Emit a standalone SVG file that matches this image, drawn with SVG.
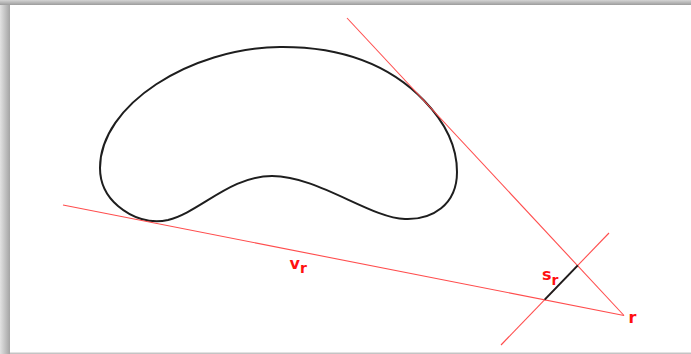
<svg xmlns="http://www.w3.org/2000/svg" width="691" height="354" viewBox="0 0 691 354">
  <defs>
    <linearGradient id="shL" x1="0" y1="0" x2="1" y2="0">
      <stop offset="0" stop-color="#e2e2e2"/>
      <stop offset="1" stop-color="#a4a4a4"/>
    </linearGradient>
    <linearGradient id="shT" x1="0" y1="0" x2="0" y2="1">
      <stop offset="0" stop-color="#d4d4d4"/>
      <stop offset="1" stop-color="#9c9c9c"/>
    </linearGradient>
  </defs>
  <style>
    .ray { stroke: #ff4d4d; stroke-width: 1.1; fill: none; }
    .seg { stroke: #1e1e1e; stroke-width: 2; fill: none; }
    .lbl { font-family: "DejaVu Sans", sans-serif; fill: #ff1010; font-size: 16px; font-weight: bold; }
    .sub { font-size: 14px; }
  </style>
  <g id="frame">
    <rect x="0" y="0" width="691" height="354" fill="#c4c4c4"/>
    <rect x="0" y="0" width="10" height="354" fill="url(#shL)"/>
    <rect x="0" y="0" width="691" height="5" fill="url(#shT)"/>
    <rect x="10" y="5" width="681" height="347.5" fill="#ffffff"/>
  </g>
  <g id="shape">
    <path class="seg" d="M 100 168 C 100 105, 190 48, 280 47 C 340 46.5, 388 63, 424 100.5 C 440 117, 457 140, 457 172 C 457 205, 432 220, 405 219 C 370 218, 318 176, 272 176 C 230 176, 200 212, 168 220 C 150 224, 132 218, 118 206 C 105 195, 100 182, 100 168 Z"/>
  </g>
  <g id="connectors">
    <line class="ray" x1="63" y1="205" x2="624" y2="315.5"/>
    <line class="ray" x1="347" y1="18" x2="624" y2="315.5"/>
    <line class="ray" x1="609" y1="233" x2="501" y2="345"/>
    <line x1="577.8" y1="265.4" x2="544.7" y2="299.6" stroke="#1e1e1e" stroke-width="2"/>
  </g>
  <g id="labels">
    <text class="lbl" x="289.5" y="269">v<tspan class="sub" dy="4">r</tspan></text>
    <text class="lbl" x="542" y="280">s<tspan class="sub" dy="5">r</tspan></text>
    <text class="lbl" x="628.5" y="323">r</text>
  </g>
</svg>
